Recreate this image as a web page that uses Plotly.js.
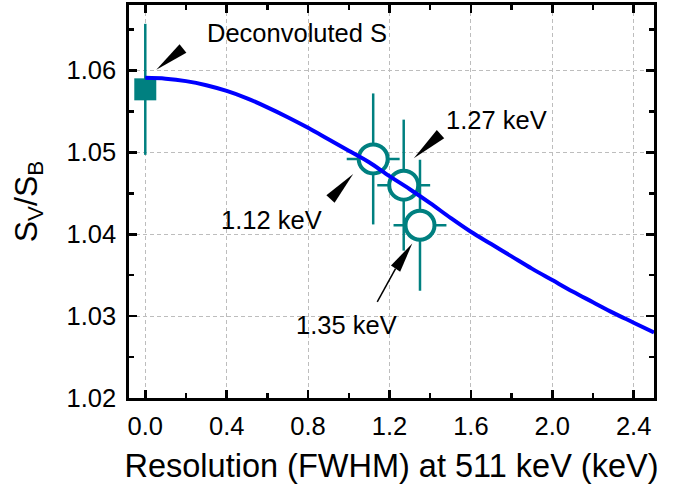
<!DOCTYPE html>
<html><head><meta charset="utf-8">
<script src="https://cdn.plot.ly/plotly-3.0.1.min.js"></script>
<style>html,body{margin:0;padding:0;background:#fff}#chart{width:677px;height:489px}</style>
</head><body><div id="chart"></div>
<script>
// Simulated S-ratio curve vs. resolution
const curveX = [0, 0.1, 0.2, 0.3, 0.4, 0.5, 0.6, 0.7, 0.8, 0.9, 1.0, 1.1, 1.2, 1.3, 1.4, 1.5, 1.6, 1.7, 1.8, 1.9, 2.0, 2.1, 2.2, 2.3, 2.4, 2.5];
const curveY = [1.0591, 1.0590, 1.0587, 1.0582, 1.0575, 1.0566, 1.0555, 1.0543, 1.0530, 1.0516, 1.0502, 1.0488, 1.0471, 1.0455, 1.0438, 1.0420, 1.0403, 1.0388, 1.0373, 1.0358, 1.0344, 1.0330, 1.0317, 1.0304, 1.0292, 1.0280];
// Measured points
const measX = [1.12, 1.27, 1.35];
const measY = [1.0492, 1.0460, 1.0411];
const measXErr = [0.13, 0.13, 0.13];
const measYErr = [0.008, 0.008, 0.008];
// Deconvoluted value
const deconvX = [0];
const deconvY = [1.0577];
const deconvYErr = [0.008];
// Labels
const annLabels = ['Deconvoluted S', '1.12 keV', '1.27 keV', '1.35 keV'];
const xTitle = 'Resolution (FWHM) at 511 keV (keV)';
const yTitle = 'S<sub>V</sub>/S<sub>B</sub>';

const teal = '#008080';
const font = 'Arial, "Liberation Sans", sans-serif';

function wedge(x, y, dx, dy, w) {
  const L = Math.hypot(dx, dy);
  const px = -dy / L * w, py = dx / L * w;
  const p = (a, b) => a.toFixed(1) + ',' + (-b).toFixed(1);
  return {type: 'path', xref: 'x', yref: 'y', xsizemode: 'pixel', ysizemode: 'pixel',
    xanchor: x, yanchor: y, path: 'M0,0 L' + p(dx + px, dy + py) + ' L' + p(dx - px, dy - py) + ' Z',
    fillcolor: 'black', line: {width: 0}, layer: 'above'};
}
function stem(x, y, sx, sy, ex, ey) {
  const p = (a, b) => a.toFixed(1) + ',' + (-b).toFixed(1);
  return {type: 'path', xref: 'x', yref: 'y', xsizemode: 'pixel', ysizemode: 'pixel',
    xanchor: x, yanchor: y, path: 'M' + p(sx, sy) + ' L' + p(ex, ey),
    line: {color: 'black', width: 1.5}, layer: 'above'};
}

const traces = [
  {x: measX, y: measY, type: 'scatter', mode: 'markers',
   error_x: {type: 'data', array: measXErr, visible: true, color: teal, thickness: 2.5, width: 0},
   error_y: {type: 'data', array: measYErr, visible: true, color: teal, thickness: 2.5, width: 0},
   marker: {symbol: 'circle', size: 29, color: 'white', line: {color: teal, width: 4}},
   hoverinfo: 'skip'},
  {x: deconvX, y: deconvY, type: 'scatter', mode: 'markers',
   error_y: {type: 'data', array: deconvYErr, visible: true, color: teal, thickness: 2.5, width: 0},
   marker: {symbol: 'square', size: 22, color: teal, line: {width: 0}},
   hoverinfo: 'skip'},
  {x: curveX, y: curveY, type: 'scatter', mode: 'lines', line: {color: '#0000ff', width: 4, shape: 'spline'},
   hoverinfo: 'skip'}
];

const axBase = {
  showline: true, linecolor: 'black', linewidth: 2.8, mirror: 'allticks',
  ticks: 'inside', ticklen: 8, tickwidth: 2.5, tickcolor: 'black',
  showgrid: true, gridcolor: '#bdbdbd', gridwidth: 1, griddash: '4px,3px',
  zeroline: false, tickfont: {family: font, size: 25.5, color: 'black'}
};

const layout = {
  width: 677, height: 489,
  margin: {l: 129, r: 23, t: 5, b: 91},
  paper_bgcolor: 'white', plot_bgcolor: 'white', showlegend: false,
  xaxis: Object.assign({}, axBase, {
    range: [-0.08, 2.5], tick0: 0, dtick: 0.4, tickformat: '.1f', ticklabelstandoff: 4,
    minor: {ticks: 'inside', ticklen: 5, tickwidth: 2.5, tickcolor: 'black', dtick: 0.2, tick0: 0, showgrid: false},
    title: {text: xTitle, font: {family: font, size: 32.5, color: 'black'}, standoff: 15}
  }),
  yaxis: Object.assign({}, axBase, {
    range: [1.02, 1.068], tick0: 1.02, dtick: 0.01, tickformat: '.2f', ticklabelstandoff: 5,
    minor: {ticks: 'inside', ticklen: 5, tickwidth: 2.5, tickcolor: 'black', dtick: 0.005, tick0: 1.02, showgrid: false},
    title: {text: yTitle, font: {family: font, size: 32, color: 'black'}, standoff: 20}
  }),
  shapes: [
    wedge(0.054, 1.0601, 26.7, -21.2, 5.5),
    wedge(1.0217, 1.04736, -22.7, 25, 5.5),
    wedge(1.3197, 1.04927, 26.7, -24.3, 5.5),
    wedge(1.312, 1.03886, -16.7, 25, 5.5),
    stem(1.312, 1.03886, -16.7, 25, -35, 58.3)
  ],
  annotations: [
    {x: 0.295, y: 1.0646, text: annLabels[0], xanchor: 'left', yanchor: 'middle'},
    {x: 0.622, y: 1.0418, text: annLabels[1], xanchor: 'center', yanchor: 'middle'},
    {x: 1.466, y: 1.0539, text: annLabels[2], xanchor: 'left', yanchor: 'middle'},
    {x: 0.988, y: 1.0289, text: annLabels[3], xanchor: 'center', yanchor: 'middle'}
  ].map(a => Object.assign(a, {xref: 'x', yref: 'y', showarrow: false, font: {family: font, size: 25.5, color: 'black'}}))
};

Plotly.newPlot('chart', traces, layout, {displayModeBar: false, staticPlot: true});
</script></body></html>
